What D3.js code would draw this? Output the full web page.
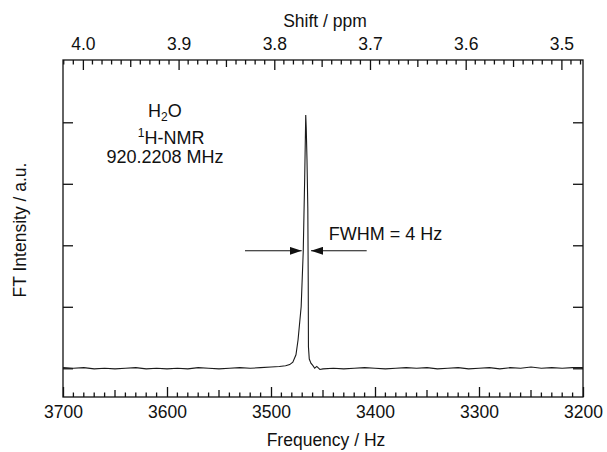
<!DOCTYPE html>
<html>
<head>
<meta charset="utf-8">
<script src="https://cdn.jsdelivr.net/npm/d3@7"></script>
<style>
  body { margin: 0; background: #fff; }
  svg text { font-family: "Liberation Sans", Arial, Helvetica, sans-serif; fill: #111; }
</style>
</head>
<body>
<svg id="espectro"></svg>
<script>
// datos
const larmorMHz = 920.2208;
const freqTicks = [3700, 3600, 3500, 3400, 3300, 3200];
const ppmTicks = [4.0, 3.9, 3.8, 3.7, 3.6, 3.5];
const intTicks = [0, 1, 2, 3, 4];

// espectro (Hz, intensidad en unidades de tick)
const freqHz = [
    3700, 3690, 3680, 3670, 3660, 3650, 3640, 3630, 3620, 3610,
    3600, 3590, 3580, 3570, 3560, 3550, 3540, 3530, 3520, 3510,
    3500, 3492, 3486, 3482, 3479, 3476, 3474, 3471, 3469, 3467.6,
    3466.6, 3466.1, 3465.4, 3464.6, 3464.2, 3464.0, 3463.2, 3461.5, 3460, 3458,
    3456, 3453, 3450, 3440, 3430, 3420, 3410, 3400, 3390, 3380,
    3370, 3360, 3350, 3340, 3330, 3320, 3310, 3300, 3290, 3280,
    3270, 3260, 3250, 3240, 3230, 3220, 3210, 3200
];
const intensity = [
    0.01, 0.00, 0.01, -0.01, 0.00, -0.01, 0.00, 0.01, -0.01, 0.00,
    -0.01, 0.00, -0.01, 0.01, 0.00, -0.01, 0.00, 0.01, 0.00, 0.01,
    0.02, 0.03, 0.04, 0.06, 0.10, 0.22, 0.46, 1.00, 1.90, 3.10,
    4.12, 3.90, 3.40, 2.60, 1.40, 0.35, 0.15, 0.08, 0.05, 0.00,
    0.03, -0.02, -0.01, 0.00, -0.01, 0.00, 0.01, 0.00, -0.01, 0.00,
    0.01, 0.00, 0.01, -0.01, 0.00, 0.01, -0.01, 0.00, 0.01, -0.01,
    0.01, 0.00, 0.02, 0.00, 0.01, 0.00, 0.01, 0.01
];

// anotacion FWHM
const fwhmY = 1.91;
const fwhmTips = [3470.5, 3461.5];
const fwhmTails = [3525, 3408];

const ancho = 607;
const alto = 452;
const margen = {top: 60, right: 24, bottom: 55, left: 63};
const ancho_g = ancho - margen.left - margen.right;
const alto_g = alto - margen.top - margen.bottom;

const svg = d3.select('#espectro').attr('width', ancho).attr('height', alto);
const g = svg.append('g').attr('transform', 'translate(' + margen.left + ',' + margen.top + ')');

const miEscalaX = d3.scaleLinear().domain([3700, 3200]).range([0, ancho_g]);
const miEscalaPpm = d3.scaleLinear()
    .domain([3700 / larmorMHz, 3200 / larmorMHz])
    .range([0, ancho_g]);
const miEscalaY = d3.scaleLinear().domain([-0.467, 5.013]).range([alto_g, 0]);

// ticks menores: cada paso, con uno medio cada 5 pasos
function ticksMenores (escala, paso, y0, dir) {
    const d = escala.domain();
    const lo = Math.min(d[0], d[1]), hi = Math.max(d[0], d[1]);
    const ks = d3.range(Math.ceil(lo / paso - 1e-6), Math.floor(hi / paso + 1e-6) + 1)
        .filter(function (k) { return k % 10 !== 0; });
    g.append('g')
        .selectAll('line')
        .data(ks).enter()
        .append('line')
        .attr('x1', function (k) { return escala(k * paso); })
        .attr('x2', function (k) { return escala(k * paso); })
        .attr('y1', y0)
        .attr('y2', function (k) { return y0 + dir * (k % 5 === 0 ? 7 : 4.5); })
        .attr('stroke', '#111')
        .attr('stroke-width', 1.3);
}

ticksMenores(miEscalaX, 10, alto_g, -1);
ticksMenores(miEscalaPpm, 0.01, 0, 1);

// eje inferior
const xMiEje = d3.axisBottom(miEscalaX).tickValues(freqTicks).tickSize(-10).tickPadding(9)
    .tickFormat(d3.format('d'));
g.append('g').attr('id', 'xMiEje').attr('transform', 'translate(0,' + alto_g + ')')
    .style('font-size', '17.5px')
    .call(xMiEje);

// eje superior (ppm)
const ppmEje = d3.axisTop(miEscalaPpm).tickValues(ppmTicks).tickSize(-10).tickPadding(10)
    .tickFormat(d3.format('.1f'));
g.append('g').attr('id', 'ppmEje').style('font-size', '17.5px').call(ppmEje);

// ejes y (solo ticks)
g.append('g').call(d3.axisLeft(miEscalaY).tickValues(intTicks).tickSize(-10).tickFormat(''));
g.append('g').attr('transform', 'translate(' + ancho_g + ',0)')
    .call(d3.axisRight(miEscalaY).tickValues(intTicks).tickSize(-10).tickFormat(''));

g.selectAll('.domain').remove();
g.selectAll('.tick line').attr('stroke', '#111').attr('stroke-width', 1.3);
g.selectAll('.tick text').attr('fill', '#111');

// marco
g.append('rect')
    .attr('x', 0).attr('y', 0)
    .attr('width', ancho_g).attr('height', alto_g)
    .attr('fill', 'none')
    .attr('stroke', '#111')
    .attr('stroke-width', 1.3);

// linea del espectro
const graphLine = d3.line()
    .x(function (d, i) { return miEscalaX(freqHz[i]); })
    .y(function (d) { return miEscalaY(d); });

g.append('path')
    .attr('d', graphLine(intensity))
    .attr('fill', 'none')
    .attr('stroke', '#1a1a1a')
    .attr('stroke-width', 1.1);

// flechas FWHM
svg.append('defs').append('marker')
    .attr('id', 'flecha')
    .attr('viewBox', '0 0 12 8')
    .attr('refX', 12).attr('refY', 4)
    .attr('markerWidth', 12).attr('markerHeight', 8)
    .attr('markerUnits', 'userSpaceOnUse')
    .attr('orient', 'auto')
    .append('path')
    .attr('d', 'M0,0 L12,4 L0,8 Z')
    .attr('fill', '#111');

for (let i = 0; i < 2; i++) {
    g.append('line')
        .attr('x1', miEscalaX(fwhmTails[i]))
        .attr('x2', miEscalaX(fwhmTips[i]))
        .attr('y1', miEscalaY(fwhmY))
        .attr('y2', miEscalaY(fwhmY))
        .attr('stroke', '#111')
        .attr('stroke-width', 1.1)
        .attr('marker-end', 'url(#flecha)');
}

g.append('text')
    .attr('x', miEscalaX(3444.5))
    .attr('y', miEscalaY(2.08))
    .style('font-size', '18px')
    .text('FWHM = 4 Hz');

// texto H2O / 1H-NMR / frecuencia
const t1 = g.append('text')
    .attr('x', miEscalaX(3602))
    .attr('y', miEscalaY(4.09))
    .attr('text-anchor', 'middle')
    .style('font-size', '18px');
t1.append('tspan').text('H');
t1.append('tspan').attr('dy', 4).style('font-size', '12px').text('2');
t1.append('tspan').attr('dy', -4).text('O');

const t2 = g.append('text')
    .attr('x', miEscalaX(3596))
    .attr('y', miEscalaY(3.65))
    .attr('text-anchor', 'middle')
    .style('font-size', '18px');
t2.append('tspan').attr('dy', -7).style('font-size', '12px').text('1');
t2.append('tspan').attr('dy', 7).text('H-NMR');

g.append('text')
    .attr('x', miEscalaX(3602))
    .attr('y', miEscalaY(3.345))
    .attr('text-anchor', 'middle')
    .style('font-size', '18px')
    .text('920.2208 MHz');

// titulos de ejes
svg.append('text')
    .attr('x', margen.left + ancho_g / 2 + 3)
    .attr('y', 446)
    .attr('text-anchor', 'middle')
    .style('font-size', '17.5px')
    .text('Frequency / Hz');

svg.append('text')
    .attr('x', margen.left + ancho_g / 2 + 2)
    .attr('y', 27)
    .attr('text-anchor', 'middle')
    .style('font-size', '17.5px')
    .text('Shift / ppm');

svg.append('text')
    .attr('transform', 'translate(26,230) rotate(-90)')
    .attr('text-anchor', 'middle')
    .style('font-size', '17.5px')
    .text('FT Intensity / a.u.');
</script>
</body>
</html>
